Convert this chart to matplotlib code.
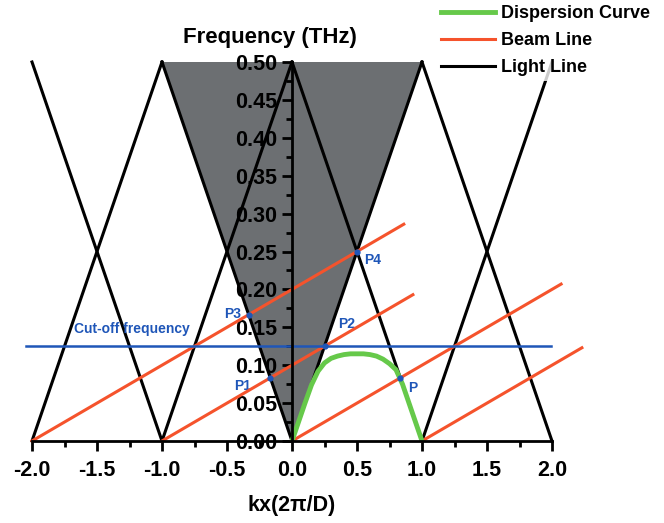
import numpy as np
import matplotlib
matplotlib.use('Agg')
import matplotlib.pyplot as plt
from matplotlib.ticker import MultipleLocator

plt.rcParams['font.family'] = ['Liberation Sans', 'DejaVu Sans']
plt.rcParams['font.weight'] = 'bold'

# light lines (kx, f) segments
light_x = [[-2, -1], [-2, -1], [-1, 0], [-1, 0], [0, 1], [0, 1], [1, 2], [1, 2]]
light_y = [[0.5, 0], [0, 0.5], [0.5, 0], [0, 0.5], [0, 0.5], [0.5, 0], [0, 0.5], [0.5, 0]]

# shaded region
shade_x = [-1, 1, 0]
shade_y = [0.5, 0.5, 0]

# beam lines (start, end)
beam_x = [[-2, 0.86], [-1, 0.93], [0, 2.07], [1, 2.23]]
beam_y = [[0, 0.286], [0, 0.193], [0, 0.207], [0, 0.123]]

# dispersion curve
disp_x = [0, 0.05, 0.1, 0.15, 0.2, 0.25, 0.3, 0.35, 0.4, 0.45, 0.5, 0.55,
          0.6, 0.65, 0.7, 0.75, 0.8, 0.85, 0.9, 0.95, 1.0]
disp_y = [0, 0.025, 0.05, 0.074, 0.092, 0.103, 0.109, 0.112, 0.114, 0.115, 0.115,
          0.115, 0.114, 0.112, 0.108, 0.102, 0.094, 0.075, 0.05, 0.025, 0]

# cut-off frequency
cutoff = 0.125
cutoff_x = [-2.05, 1.99]

# crossing points
pt_names = ['P1', 'P2', 'P3', 'P4', 'P']
pt_x = [-1 / 6, 0.25, -1 / 3, 0.5, 5 / 6]
pt_y = [1 / 12, 0.125, 1 / 6, 0.25, 1 / 12]
lbl_x = [-0.38, 0.42, -0.46, 0.62, 0.93]
lbl_y = [0.073, 0.154, 0.168, 0.239, 0.07]

blue = '#1f56b8'
orange = '#f5532c'
green = '#66c94a'

fig = plt.figure(figsize=(6.64, 5.23), dpi=100)
ax = fig.add_axes([32 / 664, 82 / 523, 520 / 664, 379 / 523])

ax.fill(shade_x, shade_y, color='#6c6f72', zorder=1, lw=0)

for xs, ys in zip(light_x, light_y):
    ax.plot(xs, ys, color='black', lw=2.2, zorder=3, clip_on=False)

for xs, ys in zip(beam_x, beam_y):
    ax.plot(xs, ys, color=orange, lw=2.2, zorder=4, clip_on=False)

ax.plot(cutoff_x, [cutoff, cutoff], color=blue, lw=1.8, zorder=4, clip_on=False)
ax.plot(disp_x, disp_y, color=green, lw=3.5, zorder=5)

ax.plot(pt_x, pt_y, 'o', color=blue, ms=3.5, zorder=6)
for n, lx, ly in zip(pt_names, lbl_x, lbl_y):
    ax.text(lx, ly, n, color=blue, fontsize=10, ha='center', va='center')
ax.text(-1.23, 0.148, 'Cut-off frequency', color=blue, fontsize=10,
        ha='center', va='center')

ax.set_xlim(-2, 2)
ax.set_ylim(0, 0.5)
ax.spines['left'].set_position(('data', 0))
ax.spines['top'].set_visible(False)
ax.spines['right'].set_visible(False)
ax.spines['left'].set_linewidth(2)
ax.spines['bottom'].set_linewidth(2)
ax.spines['left'].set_zorder(7)
ax.spines['bottom'].set_zorder(7)
ax.patch.set_visible(False)

ax.xaxis.set_major_locator(MultipleLocator(0.5))
ax.xaxis.set_minor_locator(MultipleLocator(0.25))
ax.yaxis.set_major_locator(MultipleLocator(0.05))
ax.yaxis.set_minor_locator(MultipleLocator(0.025))
ax.tick_params(which='major', length=7, width=2, labelsize=15.5)
ax.tick_params(which='minor', length=4, width=2)
ax.tick_params(axis='x', which='major', pad=7)
ax.set_xticks(np.arange(-2, 2.01, 0.5))
ax.set_xticklabels(['%.1f' % v for v in np.arange(-2, 2.01, 0.5)])
ax.set_yticks(np.arange(0, 0.501, 0.05))
ax.set_yticklabels(['%.2f' % v for v in np.arange(0, 0.501, 0.05)])

ax.set_xlabel('kx(2\u03c0/D)', fontsize=15.5, fontweight='bold', labelpad=10)
fig.text(270 / 664, 1 - 38 / 523, 'Frequency (THz)', fontsize=16,
         fontweight='bold', ha='center', va='center')

h1, = ax.plot([], [], color=green, lw=3.5, label='Dispersion Curve')
h2, = ax.plot([], [], color=orange, lw=2.2, label='Beam Line')
h3, = ax.plot([], [], color='black', lw=2.2, label='Light Line')
leg = fig.legend(handles=[h1, h2, h3], loc='upper right',
                 bbox_to_anchor=(1.0, 1.018), frameon=True, fontsize=13,
                 handlelength=3, handletextpad=0.3, labelspacing=0.55,
                 borderpad=0.3)
leg.get_frame().set_edgecolor('none')
leg.get_frame().set_facecolor('white')
leg.set_zorder(10)

fig.savefig('out.png', dpi=100)
